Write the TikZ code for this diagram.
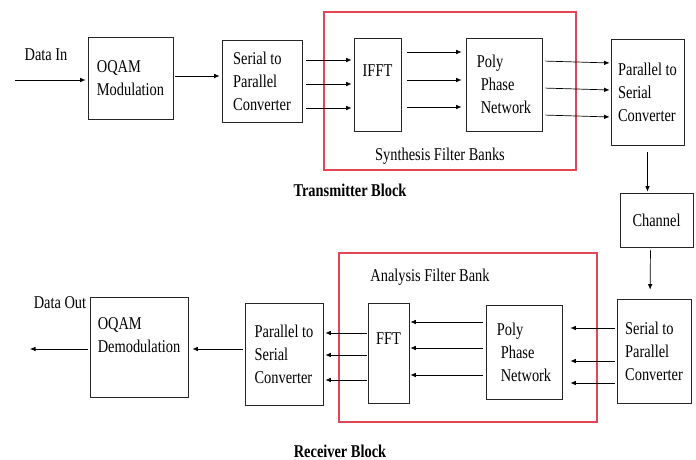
\documentclass[tikz,border=0pt]{standalone}
\usepackage{fontspec}
\setmainfont[FakeStretch=0.8]{Liberation Serif}
\usepackage{xcolor}
\usepackage{tikz}
\usetikzlibrary{arrows.meta}
\definecolor{bankred}{RGB}{225,70,85}

\begin{document}
\begin{tikzpicture}[x=1pt,y=-1pt,
  box/.style={draw=black!85,line width=0.7pt,inner sep=0pt,align=left,font=\fontsize{18}{23}\selectfont},
  bank/.style={draw=bankred,line width=1.2pt},
  arr/.style={-{Latex[length=5.5pt,width=4.5pt]},line width=0.7pt},
  txt/.style={font=\fontsize{18}{23}\selectfont},
  head/.style={font=\fontsize{18}{23}\selectfont\bfseries}]
  \useasboundingbox (0,0) rectangle (696,460);
  % filter banks
  \draw[bank] (324,12) rectangle (576,170);
  \draw[bank] (339,253) rectangle (597,422);
  % transmitter
  \coordinate (in) at (15,80);
  \node[txt] (datain) at (46,55) {Data In};
  \node[box,minimum width=85,minimum height=82] (mod) at (130.5,78) {OQAM\\Modulation};
  \node[box,minimum width=80,minimum height=82] (sp) at (262,81) {Serial to\\Parallel\\Converter};
  \node[box,minimum width=47,minimum height=93] (ifft) at (377.5,84.5) {IFFT\\[4pt]\mbox{}};
  \node[box,minimum width=76,minimum height=93] (ppn) at (504,84.5) {Poly\\\hspace{4pt}Phase\\\hspace{4pt}Network};
  \node[box,minimum width=73,minimum height=106] (ps) at (647.5,92) {Parallel to\\Serial\\Converter};
  \node[txt] (synth) at (440,156) {Synthesis Filter Banks};
  \node[head] (tx) at (350,190) {Transmitter Block};
  % channel
  \node[box,minimum width=73,minimum height=54] (chan) at (656.5,220) {Channel};
  % receiver
  \node[box,minimum width=74,minimum height=104] (sprx) at (654,351) {Serial to\\Parallel\\Converter};
  \node[box,minimum width=76,minimum height=94] (ppnrx) at (524,352) {Poly\\\hspace{4pt}Phase\\\hspace{4pt}Network};
  \node[box,minimum width=41,minimum height=100] (fft) at (388.5,353) {FFT\\[6pt]\mbox{}};
  \node[box,minimum width=78,minimum height=102] (psrx) at (284,354) {Parallel to\\Serial\\Converter};
  \node[box,minimum width=98,minimum height=100] (demod) at (139,347) {OQAM\\Demodulation\\\mbox{}};
  \coordinate (out) at (30,349);
  \node[txt] (dataout) at (60,303) {Data Out};
  \node[txt] (anal) at (430,277) {Analysis Filter Bank};
  \node[head] (rx) at (340,451) {Receiver Block};

  \draw[arr,shorten >=2pt] (in) -- ([yshift=-2pt]mod.west);
  \draw[arr,shorten <=2pt,shorten >=2pt] ([yshift=2pt]mod.east) -- ([yshift=5pt]sp.west);
  \foreach \y in {60,84,108}
    \draw[arr,shorten <=4pt,shorten >=2pt] ([yshift={81-\y}]sp.east) -- ([yshift={84.5-\y}]ifft.west);
  \foreach \y in {52,80,107}
    \draw[arr,shorten <=6pt,shorten >=4pt] ([yshift={84.5-\y}]ifft.east) -- ([yshift={84.5-\y}]ppn.west);
  \foreach \y in {61,88,115}
    \draw[arr,shorten <=3pt,shorten >=1pt] ([yshift={84.5-\y}]ppn.east) -- ([yshift={90-\y}]ps.west);
  \draw[arr,shorten <=7pt,shorten >=1pt] (ps.south) -- (ps.south |- chan.north);
  \draw[arr,shorten <=3pt,shorten >=9pt] ([xshift=-6pt]chan.south) -- ([xshift=-4pt]sprx.north);
  \foreach \y in {328,361,383}
    \draw[arr,shorten <=2pt,shorten >=8pt] ([yshift={351-\y}]sprx.west) -- ([yshift={352-\y}]ppnrx.east);
  \foreach \y in {322,348,375}
    \draw[arr,shorten <=3pt,shorten >=1pt] ([yshift={352-\y}]ppnrx.west) -- ([yshift={353-\y}]fft.east);
  \foreach \y in {333,355,380}
    \draw[arr,shorten <=1pt,shorten >=2pt] ([yshift={353-\y}]fft.west) -- ([yshift={354-\y}]psrx.east);
  \draw[arr,shorten <=2pt,shorten >=4pt] ([yshift=5pt]psrx.west) -- ([yshift=-2pt]demod.east);
  \draw[arr,shorten <=2pt] ([yshift=-2pt]demod.west) -- (out);
\end{tikzpicture}
\end{document}
